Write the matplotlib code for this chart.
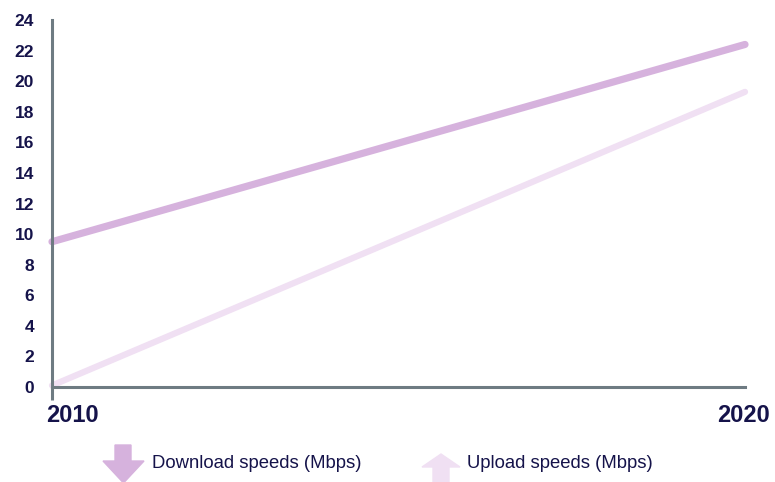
import matplotlib.pyplot as plt
import matplotlib.patches as mpatches
from matplotlib.ticker import FixedLocator

years = [2010, 2020]
download = [9.5, 22.4]
upload = [0.1, 19.3]
y_ticks = list(range(0, 25, 2))
series_labels = ['Download speeds (Mbps)', 'Upload speeds (Mbps)']

NAVY = '#15134a'
AXIS = '#6e7b82'
C_DOWN = '#d6b2dd'
C_UP = '#f0e0f3'

plt.rcParams['font.family'] = ['Liberation Sans', 'DejaVu Sans']

fig = plt.figure(figsize=(7.75, 4.82), dpi=100)
ax = fig.add_axes([52 / 775, 1 - 387 / 482, (745 - 52) / 775, (387 - 20) / 482])

ax.plot(years, download, color=C_DOWN, lw=5.2, solid_capstyle='round', clip_on=False, zorder=3)
ax.plot(years, upload, color=C_UP, lw=4.5, solid_capstyle='round', clip_on=False, zorder=3)

ax.set_xlim(years[0], years[-1])
ax.set_ylim(0, 24)

for s in ['top', 'right']:
    ax.spines[s].set_visible(False)
for s in ['left', 'bottom']:
    ax.spines[s].set_color(AXIS)
    ax.spines[s].set_linewidth(2.2)
ax.spines['bottom'].set_zorder(4)
ax.spines['left'].set_zorder(4)

ax.set_yticks(y_ticks)
ax.set_yticklabels([str(t) for t in y_ticks], fontsize=12.5, fontweight='bold', color=NAVY)
ax.tick_params(axis='y', length=0, pad=13)
ax.set_xticks([])

# short stubs where the axes cross
ax.yaxis.set_minor_locator(FixedLocator([0]))
ax.xaxis.set_minor_locator(FixedLocator([years[0]]))
ax.tick_params(which='minor', length=9, width=2.2, color=AXIS)

# year labels
ax.annotate(str(years[0]), xy=(years[0], 0), xytext=(-6, -17), textcoords='offset pixels',
            ha='left', va='top', fontsize=17, fontweight='bold', color=NAVY, annotation_clip=False)
ax.annotate(str(years[-1]), xy=(years[-1], 0), xytext=(25, -17), textcoords='offset pixels',
            ha='right', va='top', fontsize=17, fontweight='bold', color=NAVY, annotation_clip=False)

# legend with arrow glyphs (figure pixel coords)
tr = fig.dpi_scale_trans
def px(x, y):
    return (x / 100, (482 - y) / 100)

down = mpatches.Polygon([px(115, 445), px(131, 445), px(131, 461), px(144, 461), px(123.5, 483),
                         px(103, 461), px(115, 461)], closed=True, color=C_DOWN, transform=tr)
up = mpatches.Polygon([px(433, 484), px(449, 484), px(449, 467), px(460, 467), px(441, 454),
                       px(422, 467), px(433, 467)], closed=True, color=C_UP, transform=tr)
fig.patches.extend([down, up])

fig.text(152 / 775, 1 - 464 / 482, series_labels[0], fontsize=13.3, color=NAVY, va='center', ha='left')
fig.text(467 / 775, 1 - 464 / 482, series_labels[1], fontsize=13.3, color=NAVY, va='center', ha='left')

fig.savefig('out.png', dpi=100)
